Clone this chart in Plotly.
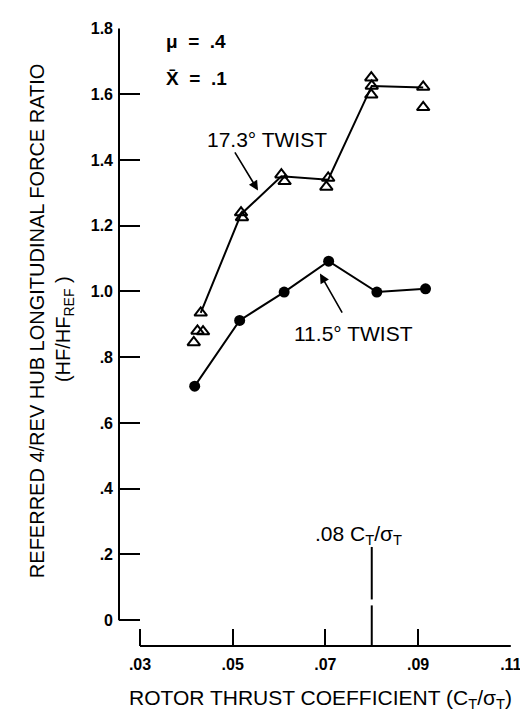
import plotly.graph_objects as go

# ---- data ----
x_tick_vals = [0.03, 0.05, 0.07, 0.09, 0.11]
x_tick_text = [".03", ".05", ".07", ".09", ".11"]
y_tick_vals = [0, 0.2, 0.4, 0.6, 0.8, 1.0, 1.2, 1.4, 1.6, 1.8]
y_tick_text = ["0", ".2", ".4", ".6", ".8", "1.0", "1.2", "1.4", "1.6", "1.8"]

# 17.3 deg twist: all measured points (open triangles)
x_173_pts = [0.0416, 0.0424, 0.0436, 0.0431, 0.0518, 0.0520, 0.0605, 0.0612,
             0.0706, 0.0702, 0.0799, 0.0800, 0.0799, 0.0911, 0.0911]
y_173_pts = [0.845, 0.880, 0.878, 0.935, 1.240, 1.225, 1.355, 1.335,
             1.345, 1.318, 1.650, 1.625, 1.598, 1.622, 1.560]
# 17.3 deg twist faired line
x_173_line = [0.0431, 0.0518, 0.0605, 0.0706, 0.0800, 0.0911]
y_173_line = [0.935, 1.235, 1.350, 1.340, 1.625, 1.620]

# 11.5 deg twist (filled circles)
x_115 = [0.0418, 0.0515, 0.0611, 0.0707, 0.0811, 0.0916]
y_115 = [0.712, 0.912, 0.998, 1.092, 0.998, 1.008]

ref_ct = 0.08

# ---- layout geometry (pixels) ----
W, H = 528, 711
L, R, T, B = 111, 503, 14, 638
X03_PX, XPX_PER = 132, 4635.0   # pixel of .03, pixels per unit x
Y0_PX, YPX_PER = 612, 332.0     # pixel of y=0, pixels per unit y

xmin = 0.03 - (X03_PX - L) / XPX_PER
xmax = 0.03 + (R - X03_PX) / XPX_PER
ymin = -(B - Y0_PX) / YPX_PER
ymax = (Y0_PX - T) / YPX_PER

def dx(px):
    return 0.03 + (px - X03_PX) / XPX_PER

def dy(py):
    return (Y0_PX - py) / YPX_PER

def paper_x(px):
    return (px - L) / (R - L)

def paper_y(py):
    return (B - py) / (B - T)

FONT = "Liberation Sans, Arial, Helvetica, sans-serif"

fig = go.Figure()

fig.add_trace(go.Scatter(x=x_173_line, y=y_173_line, mode="lines",
                         line=dict(color="black", width=2), showlegend=False,
                         hoverinfo="skip"))
fig.add_trace(go.Scatter(x=x_173_pts, y=y_173_pts, mode="markers",
                         marker=dict(symbol="triangle-up-open", size=11,
                                     color="black", line=dict(width=2)),
                         showlegend=False))
fig.add_trace(go.Scatter(x=x_115, y=y_115, mode="lines+markers",
                         line=dict(color="black", width=2),
                         marker=dict(symbol="circle", size=11, color="black"),
                         showlegend=False))

# reference C_T/sigma line (with small scan gap)
fig.add_shape(type="line", x0=ref_ct, x1=ref_ct, y0=dy(538), y1=dy(591),
              xref="x", yref="y", line=dict(color="black", width=2))
fig.add_shape(type="line", x0=ref_ct, x1=ref_ct, y0=dy(597), y1=ymin,
              xref="x", yref="y", line=dict(color="black", width=2))

# axis lines (range frame)
fig.add_shape(type="line", x0=0, x1=0, y0=0, y1=1.8, xref="paper", yref="y",
              line=dict(color="black", width=2))
fig.add_shape(type="line", x0=0.03, x1=0.11, y0=0, y1=0, xref="x", yref="paper",
              line=dict(color="black", width=2))

ann = []
def text_ann(txt, px, py, size, xanchor="center", bold=False, angle=0):
    ann.append(dict(text=txt, x=paper_x(px), y=paper_y(py), xref="paper",
                    yref="paper", showarrow=False, xanchor=xanchor,
                    yanchor="middle", textangle=angle,
                    font=dict(family=FONT, size=size, color="black",
                              weight="bold" if bold else "normal")))

NB = "\u00a0"
text_ann("μ" + NB * 2 + "=" + NB * 2 + ".4", 156, 28, 19, xanchor="left", bold=True)
text_ann("X\u0304" + NB * 2 + "=" + NB * 2 + ".1", 156, 65, 19, xanchor="left", bold=True)
text_ann("17.3° TWIST", 259, 127, 21)
text_ann("11.5° TWIST", 345, 322, 21)
text_ann(".08 C<sub>T</sub>/σ<sub>T</sub>", 350, 526, 21)
text_ann("ROTOR THRUST COEFFICIENT (C<sub>T</sub>/σ<sub>T</sub>)", 312, 692, 21)
text_ann("REFERRED 4/REV HUB LONGITUDINAL FORCE RATIO", 29, 310, 20, angle=-90)
text_ann("(HF/HF<sub>REF</sub> )", 56, 318, 20, angle=-90)

def arrow(tail, head):
    ann.append(dict(text="", x=dx(head[0]), y=dy(head[1]), xref="x", yref="y",
                    ax=dx(tail[0]), ay=dy(tail[1]), axref="x", ayref="y",
                    showarrow=True, arrowhead=2, arrowsize=1.2, arrowwidth=1.6,
                    arrowcolor="black", standoff=0))

arrow((226, 138), (250, 178))
arrow((335, 303), (312, 262))

fig.update_layout(
    width=W, height=H,
    margin=dict(l=L, r=W - R, t=T, b=H - B, pad=0),
    paper_bgcolor="white", plot_bgcolor="white",
    annotations=ann,
    xaxis=dict(range=[xmin, xmax], tickvals=x_tick_vals, ticktext=x_tick_text,
               ticks="inside", ticklen=17, tickwidth=2, tickcolor="black",
               showgrid=False, zeroline=False, showline=False,
               tickfont=dict(family=FONT, size=16, color="black", weight="bold"),
               ticklabelstandoff=7, fixedrange=True),
    yaxis=dict(range=[ymin, ymax], tickvals=y_tick_vals, ticktext=y_tick_text,
               ticks="inside", ticklen=21, tickwidth=2, tickcolor="black",
               showgrid=False, zeroline=False, showline=False,
               tickfont=dict(family=FONT, size=16, color="black", weight="bold"),
               ticklabelstandoff=5, fixedrange=True),
    showlegend=False,
)

fig.write_html("out.html")
